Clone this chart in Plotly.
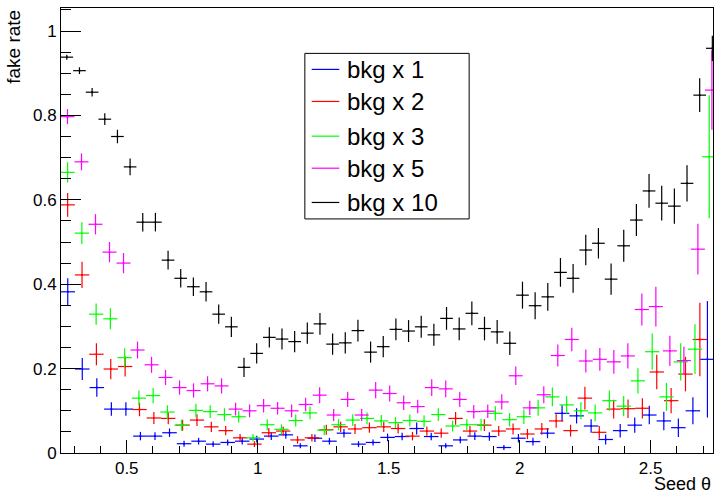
import numpy as np
import plotly.graph_objects as go

# ---------------- data ----------------
labels = ["bkg x 1", "bkg x 2", "bkg x 3", "bkg x 5", "bkg x 10"]
colors = ["#0000ff", "#ff0000", "#00ff00", "#ff00ff", "#000000"]

# histogram binning: common lower edge, per-series bin width
bin_low = 0.247
bin_width = {"bkg x 1": 0.0555, "bkg x 2": 0.05485, "bkg x 3": 0.05443,
             "bkg x 5": 0.05348, "bkg x 10": 0.04832}

bkg1 = [0.382, 0.199, 0.155, 0.104, 0.104, 0.040, 0.040, 0.048, 0.022, 0.028,
        0.021, 0.025, 0.028, 0.033, 0.040, 0.043, 0.017, 0.035, 0.028, 0.047,
        0.021, 0.025, 0.037, 0.039, 0.058, 0.039, 0.017, 0.031, 0.040, 0.039,
        0.013, 0.035, 0.027, 0.047, 0.094, 0.088, 0.064, 0.032, 0.053, 0.066,
        0.090, 0.076, 0.060, 0.100, 0.222]
bkg1_err = [0.032, 0.026, 0.022, 0.016, 0.016, 0.010, 0.009, 0.010, 0.007, 0.008,
            0.007, 0.007, 0.008, 0.008, 0.009, 0.009, 0.006, 0.009, 0.008, 0.010,
            0.007, 0.007, 0.009, 0.009, 0.014, 0.009, 0.006, 0.008, 0.009, 0.010,
            0.006, 0.010, 0.009, 0.012, 0.019, 0.018, 0.016, 0.012, 0.016, 0.018,
            0.022, 0.022, 0.022, 0.032, 0.138]

bkg2 = [0.588, 0.422, 0.234, 0.199, 0.205, 0.103, 0.083, 0.082, 0.066, 0.078,
        0.062, 0.053, 0.036, 0.021, 0.048, 0.052, 0.031, 0.036, 0.055, 0.062,
        0.057, 0.060, 0.062, 0.058, 0.040, 0.052, 0.047, 0.082, 0.052, 0.066,
        0.052, 0.057, 0.045, 0.057, 0.076, 0.053, 0.130, 0.049, 0.104, 0.105,
        0.106, 0.192, 0.124, 0.187, 0.269]
bkg2_err = [0.028, 0.031, 0.026, 0.024, 0.024, 0.016, 0.014, 0.014, 0.013, 0.014,
            0.012, 0.011, 0.009, 0.007, 0.011, 0.011, 0.009, 0.009, 0.012, 0.012,
            0.012, 0.012, 0.012, 0.012, 0.010, 0.011, 0.011, 0.015, 0.012, 0.014,
            0.012, 0.013, 0.012, 0.014, 0.016, 0.014, 0.027, 0.015, 0.022, 0.022,
            0.024, 0.041, 0.030, 0.041, 0.087]

bkg3 = [0.665, 0.521, 0.329, 0.318, 0.226, 0.130, 0.136, 0.097, 0.066, 0.101,
        0.098, 0.091, 0.086, 0.036, 0.067, 0.056, 0.077, 0.095, 0.054, 0.067,
        0.078, 0.082, 0.076, 0.072, 0.077, 0.075, 0.091, 0.064, 0.067, 0.067,
        0.094, 0.079, 0.086, 0.107, 0.133, 0.114, 0.100, 0.095, 0.124, 0.111,
        0.171, 0.240, 0.133, 0.216, 0.246, 0.702]
bkg3_err = [0.024, 0.026, 0.025, 0.025, 0.022, 0.018, 0.018, 0.016, 0.013, 0.016,
            0.015, 0.015, 0.014, 0.009, 0.013, 0.012, 0.014, 0.015, 0.012, 0.013,
            0.014, 0.014, 0.014, 0.013, 0.014, 0.014, 0.015, 0.013, 0.013, 0.014,
            0.017, 0.016, 0.017, 0.019, 0.022, 0.021, 0.020, 0.020, 0.024, 0.024,
            0.030, 0.043, 0.033, 0.044, 0.059, 0.146]

bkg5 = [0.797, 0.690, 0.542, 0.476, 0.450, 0.244, 0.209, 0.179, 0.155, 0.148,
        0.164, 0.159, 0.104, 0.100, 0.112, 0.106, 0.100, 0.115, 0.137, 0.090,
        0.127, 0.090, 0.149, 0.141, 0.119, 0.110, 0.155, 0.152, 0.127, 0.098,
        0.099, 0.121, 0.183, 0.107, 0.138, 0.231, 0.269, 0.218, 0.222, 0.216,
        0.230, 0.340, 0.347, 0.242, 0.219, 0.483, 0.860]
bkg5_err = [0.018, 0.020, 0.024, 0.024, 0.024, 0.020, 0.019, 0.018, 0.017, 0.017,
            0.018, 0.018, 0.015, 0.015, 0.016, 0.015, 0.015, 0.016, 0.019, 0.014,
            0.018, 0.014, 0.019, 0.019, 0.017, 0.016, 0.020, 0.020, 0.018, 0.016,
            0.016, 0.018, 0.022, 0.017, 0.020, 0.026, 0.028, 0.027, 0.027, 0.028,
            0.030, 0.038, 0.047, 0.036, 0.033, 0.060, 0.094]

bkg10 = [0.938, 0.906, 0.855, 0.791, 0.750, 0.678, 0.547, 0.547, 0.457, 0.414,
         0.394, 0.382, 0.329, 0.299, 0.203, 0.236, 0.274, 0.270, 0.264, 0.284,
         0.306, 0.258, 0.261, 0.290, 0.239, 0.252, 0.293, 0.289, 0.299, 0.280,
         0.319, 0.294, 0.331, 0.295, 0.287, 0.260, 0.374, 0.349, 0.370, 0.428,
         0.414, 0.481, 0.497, 0.412, 0.491, 0.552, 0.621, 0.592, 0.585, 0.639,
         0.848, 0.959]
bkg10_err = [0.006, 0.008, 0.010, 0.014, 0.016, 0.020, 0.022, 0.022, 0.022, 0.022,
             0.022, 0.023, 0.023, 0.024, 0.023, 0.024, 0.024, 0.025, 0.025, 0.025,
             0.026, 0.025, 0.025, 0.026, 0.025, 0.025, 0.026, 0.026, 0.026, 0.026,
             0.027, 0.027, 0.028, 0.028, 0.028, 0.028, 0.032, 0.032, 0.033, 0.034,
             0.034, 0.036, 0.036, 0.037, 0.038, 0.038, 0.040, 0.041, 0.042, 0.043,
             0.040, 0.030]

series = {
    "bkg x 1": (bkg1, bkg1_err),
    "bkg x 2": (bkg2, bkg2_err),
    "bkg x 3": (bkg3, bkg3_err),
    "bkg x 5": (bkg5, bkg5_err),
    "bkg x 10": (bkg10, bkg10_err),
}

x_ticks = [0.5, 1, 1.5, 2, 2.5]
x_tick_text = ["0.5", "1", "1.5", "2", "2.5"]
y_ticks = [0, 0.2, 0.4, 0.6, 0.8, 1.0]
y_tick_text = ["0", "0.2", "0.4", "0.6", "0.8", "1"]

# ---------------- figure ----------------
FONT = "Liberation Sans, Arial, Helvetica, sans-serif"
fig = go.Figure()

for name, col in zip(labels, colors):
    vals, errs = series[name]
    w = bin_width[name]
    centers = bin_low + (np.arange(len(vals)) + 0.5) * w
    fig.add_trace(go.Scatter(
        x=centers, y=vals, mode="markers", name=name, showlegend=False,
        marker=dict(size=2, color=col),
        error_y=dict(type="data", array=errs, visible=True, color=col,
                     thickness=1.2, width=0),
        error_x=dict(type="constant", value=w / 2, visible=True, color=col,
                     thickness=1.2, width=0),
    ))

fig.update_layout(
    width=716, height=493,
    margin=dict(l=61, r=3, t=8, b=40),
    paper_bgcolor="white", plot_bgcolor="white",
    font=dict(family=FONT, size=17, color="black"),
    showlegend=False,
)
fig.update_xaxes(
    range=[0.249, 2.738], showgrid=False, zeroline=False,
    showline=True, linecolor="black", linewidth=1, mirror=True,
    ticks="inside", ticklen=13, tickcolor="black", tickwidth=1,
    tickvals=x_ticks, ticktext=x_tick_text,
    tickfont=dict(family=FONT, size=17),
    minor=dict(ticks="inside", ticklen=7, dtick=0.1, tick0=0, tickcolor="black",
               showgrid=False),
)
fig.update_yaxes(
    range=[0, 1.0545], showgrid=False, zeroline=False,
    showline=True, linecolor="black", linewidth=1, mirror=True,
    ticks="inside", ticklen=20, tickcolor="black", tickwidth=1,
    tickvals=y_ticks, ticktext=y_tick_text,
    tickfont=dict(family=FONT, size=17),
    minor=dict(ticks="inside", ticklen=10, dtick=0.05, tick0=0, tickcolor="black",
               showgrid=False),
)

# axis titles
fig.add_annotation(text="fake rate", xref="paper", yref="paper", x=-0.074, y=1.0,
                   xanchor="center", yanchor="top", textangle=-90, showarrow=False,
                   font=dict(family=FONT, size=19))
fig.add_annotation(text="Seed θ", xref="paper", yref="paper", x=1.0, y=-0.07,
                   xanchor="right", yanchor="middle", showarrow=False,
                   font=dict(family=FONT, size=18))

# legend box (drawn as ROOT TLegend)
lx0, lx1, ly0, ly1 = 0.374, 0.626, 0.526, 0.898
fig.add_shape(type="rect", xref="paper", yref="paper", x0=lx0, x1=lx1, y0=ly0, y1=ly1,
              line=dict(color="black", width=1), fillcolor="white", layer="above")
row_y = [0.862, 0.790, 0.712, 0.640, 0.563]
for name, col, yy in zip(labels, colors, row_y):
    fig.add_shape(type="line", xref="paper", yref="paper", x0=0.3845, x1=0.4268,
                  y0=yy, y1=yy, line=dict(color=col, width=1.2), layer="above")
    fig.add_annotation(text=name, xref="paper", yref="paper", x=0.436, y=yy,
                       xanchor="left", yanchor="middle", showarrow=False,
                       font=dict(family=FONT, size=24, color="black"))

fig.write_html("out.html")
